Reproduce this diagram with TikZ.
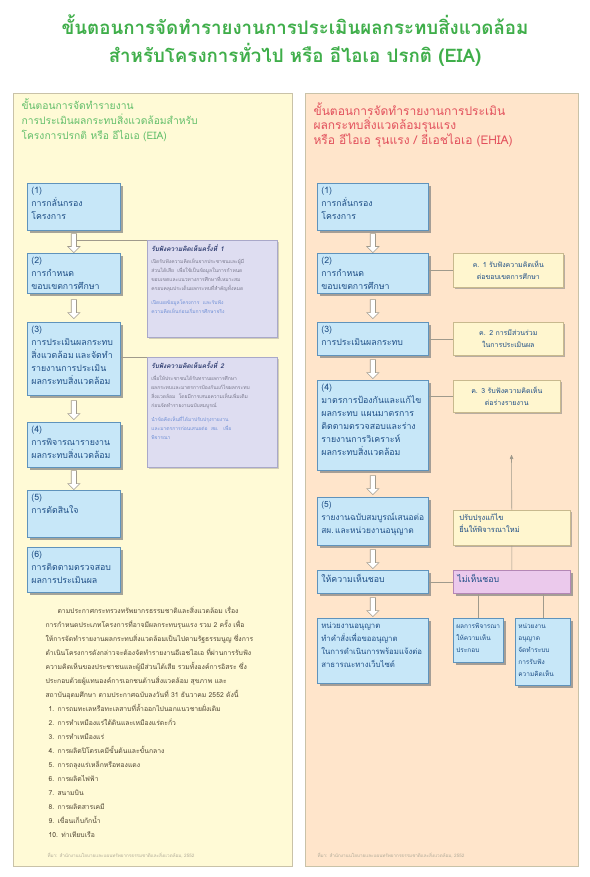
\documentclass[tikz,border=0pt]{standalone}
\usepackage{fontspec}
\setmainfont[Script=Thai]{Loma}
\usetikzlibrary{arrows,shapes.arrows,shadows}

\definecolor{titlegreen}{HTML}{3FAE4A}
\definecolor{headgreen}{HTML}{62BE6A}
\definecolor{headred}{HTML}{E2505C}
\definecolor{eiafill}{HTML}{FFFAD6}
\definecolor{ehiafill}{HTML}{FFE5CB}
\definecolor{panelline}{HTML}{C9C2A8}
\definecolor{boxfill}{HTML}{C7E7F8}
\definecolor{boxline}{HTML}{5F93BC}
\definecolor{boxtext}{HTML}{1E4E86}
\definecolor{notefill}{HTML}{DEDDF1}
\definecolor{noteline}{HTML}{A9A8C9}
\definecolor{notehead}{HTML}{2C3A6E}
\definecolor{notegrey}{HTML}{77768A}
\definecolor{noteblue}{HTML}{6F8FD6}
\definecolor{sidefill}{HTML}{FFF6CF}
\definecolor{sideline}{HTML}{C8B98E}
\definecolor{nofill}{HTML}{EBC9EC}
\definecolor{noline}{HTML}{B487B6}
\definecolor{linkgrey}{HTML}{A09A8C}
\definecolor{bodytext}{HTML}{4E4432}
\definecolor{sourcegrey}{HTML}{B0AA98}

\tikzset{
  box/.style={draw=boxline, fill=boxfill, text=boxtext, anchor=north west, align=left,
    inner xsep=4pt, inner ysep=3pt, text height=7pt, line width=0.7pt,
    font=\fontsize{8.8}{13}\selectfont,
    drop shadow={shadow xshift=2.5pt, shadow yshift=-2.5pt, opacity=0.7}},
  note/.style={draw=noteline, fill=notefill, anchor=north west, align=left, text width=122pt,
    inner xsep=4pt, inner ysep=4pt, text height=7pt, line width=0.6pt,
    drop shadow={shadow xshift=1.5pt, shadow yshift=-1.5pt, opacity=0.35}},
  side/.style={draw=sideline, fill=sidefill, text=boxtext, anchor=north west, align=center,
    inner sep=3pt, line width=0.6pt, font=\fontsize{7}{12}\selectfont,
    drop shadow={shadow xshift=2pt, shadow yshift=-2pt, opacity=0.55}},
  hollow/.style={single arrow, draw=linkgrey, fill=white, rotate=-90, minimum height=19pt,
    inner sep=2.3pt, single arrow head extend=3.5pt, line width=0.6pt},
  link/.style={draw=linkgrey, line width=0.6pt},
}

\begin{document}
\begin{tikzpicture}[x=1pt,y=-1pt]
\useasboundingbox[fill=white] (0,0) rectangle (589,877);

\node[text=titlegreen, align=center, font=\fontsize{18.7}{28}\selectfont\bfseries] (title) at (295,41)
  {ขั้นตอนการจัดทำรายงานการประเมินผลกระทบสิ่งแวดล้อม\\สำหรับโครงการทั่วไป หรือ อีไอเอ ปรกติ (EIA)};

\begin{scope}
  \draw[draw=panelline, fill=eiafill, line width=0.8pt] (13,93) rectangle (292,866);
  \node[anchor=north west, align=left, text=headgreen, font=\fontsize{10.3}{15}\selectfont] (eiahead) at (18,95)
    {ขั้นตอนการจัดทำรายงาน\\การประเมินผลกระทบสิ่งแวดล้อมสำหรับ\\โครงการปรกติ หรือ อีไอเอ (EIA)};

  \node[box, text width=85pt, text depth=34pt] (e1) at (27,183) {(1)\\การกลั่นกรอง\\โครงการ};
  \node[box, text width=85pt, text depth=27pt] (e2) at (27,253) {(2)\\การกำหนด\\ขอบเขตการศึกษา};
  \node[box, text width=85pt, text depth=60pt] (e3) at (27,322) {(3)\\การประเมินผลกระทบ\\สิ่งแวดล้อม\,และจัดทำ\\รายงานการประเมิน\\ผลกระทบสิ่งแวดล้อม};
  \node[box, text width=85pt, text depth=32pt] (e4) at (27,422) {(4)\\การพิจารณารายงาน\\ผลกระทบสิ่งแวดล้อม};
  \node[box, text width=85pt, text depth=34pt] (e5) at (27,490) {(5)\\การตัดสินใจ};
  \node[box, text width=85pt, text depth=32pt] (e6) at (27,547) {(6)\\การติดตามตรวจสอบ\\ผลการประเมินผล};

  \node[note, text depth=82pt] (n1) at (147,240)
    {{\fontsize{6.5}{10}\selectfont\bfseries\itshape\color{notehead} รับฟังความคิดเห็นครั้งที่ 1\par}
     \vspace{3pt}
     {\fontsize{5}{9}\selectfont\color{notegrey} เปิดรับฟังความคิดเห็นจากประชาชนและผู้มี\\ส่วนได้เสีย เพื่อใช้เป็นข้อมูลในการกำหนด\\ขอบเขตและแนวทางการศึกษาที่เหมาะสม\\ครอบคลุมประเด็นผลกระทบที่สำคัญทั้งหมด\par}
     \vspace{5pt}
     {\fontsize{5}{9}\selectfont\color{noteblue} เปิดเผยข้อมูลโครงการ และรับฟัง\\ความคิดเห็นก่อนเริ่มการศึกษาจริง\par}};
  \node[note, text depth=95pt] (n2) at (147,357)
    {{\fontsize{6.5}{10}\selectfont\bfseries\itshape\color{notehead} รับฟังความคิดเห็นครั้งที่ 2\par}
     \vspace{3pt}
     {\fontsize{5}{9}\selectfont\color{notegrey} เพื่อให้ประชาชนได้รับทราบผลการศึกษา\\ผลกระทบและมาตรการป้องกันแก้ไขผลกระทบ\\สิ่งแวดล้อม โดยมีการเสนอความเห็นเพิ่มเติม\\ก่อนจัดทำรายงานฉบับสมบูรณ์\par}
     \vspace{5pt}
     {\fontsize{5}{9}\selectfont\color{noteblue} นำข้อคิดเห็นที่ได้มาปรับปรุงรายงาน\\และมาตรการก่อนเสนอต่อ สผ. เพื่อ\\พิจารณา\par}};

  \draw[link] (n1.north west) -- (n1.north west -| e1.south);
  \draw[link] (n2.north west) -- (n2.north west -| e3.east);

  \path (e1) -- node[hollow] (e12) {} (e2);
  \path (e2) -- node[hollow] (e23) {} (e3);
  \path (e3) -- node[hollow] (e34) {} (e4);
  \path (e4) -- node[hollow] (e45) {} (e5);

  \node[anchor=north west, align=left, text=bodytext, text width=240pt, font=\fontsize{6.8}{14}\selectfont] (eiabody) at (42,603)
    {\hspace*{12pt}ตามประกาศกระทรวงทรัพยากรธรรมชาติและสิ่งแวดล้อม เรื่อง\\
     การกำหนดประเภทโครงการที่อาจมีผลกระทบรุนแรง รวม 2 ครั้ง เพื่อ\\
     ให้การจัดทำรายงานผลกระทบสิ่งแวดล้อมเป็นไปตามรัฐธรรมนูญ ซึ่งการ\\
     ดำเนินโครงการดังกล่าวจะต้องจัดทำรายงานอีเอชไอเอ ที่ผ่านการรับฟัง\\
     ความคิดเห็นของประชาชนและผู้มีส่วนได้เสีย รวมทั้งองค์การอิสระ ซึ่ง\\
     ประกอบด้วยผู้แทนองค์การเอกชนด้านสิ่งแวดล้อม สุขภาพ และ\\
     สถาบันอุดมศึกษา ตามประกาศฉบับลงวันที่ 31 ธันวาคม 2552 ดังนี้\\
     \hspace*{3pt}1. การถมทะเลหรือทะเลสาบที่ล้ำออกไปนอกแนวชายฝั่งเดิม\\
     \hspace*{3pt}2. การทำเหมืองแร่ใต้ดินและเหมืองแร่ตะกั่ว\\
     \hspace*{3pt}3. การทำเหมืองแร่\\
     \hspace*{3pt}4. การผลิตปิโตรเคมีขั้นต้นและขั้นกลาง\\
     \hspace*{3pt}5. การถลุงแร่เหล็กหรือทองแดง\\
     \hspace*{3pt}6. การผลิตไฟฟ้า\\
     \hspace*{3pt}7. สนามบิน\\
     \hspace*{3pt}8. การผลิตสารเคมี\\
     \hspace*{3pt}9. เขื่อนเก็บกักน้ำ\\
     \hspace*{3pt}10. ท่าเทียบเรือ};

  \node[anchor=west, text=sourcegrey, font=\fontsize{4.6}{6}\selectfont] (eiasource) at (44,855)
    {ที่มา: สำนักงานนโยบายและแผนทรัพยากรธรรมชาติและสิ่งแวดล้อม, 2552};
\end{scope}

\begin{scope}
  \draw[draw=panelline, fill=ehiafill, line width=0.8pt] (305,93) rectangle (578,866);
  \node[anchor=north west, align=left, text=headred, font=\fontsize{12}{14.5}\selectfont] (ehiahead) at (310,99)
    {ขั้นตอนการจัดทำรายงานการประเมิน\\ผลกระทบสิ่งแวดล้อมรุนแรง\\หรือ อีไอเอ รุนแรง / อีเอชไอเอ (EHIA)};

  \node[box, text width=103pt, text depth=34pt] (h1) at (317,183) {(1)\\การกลั่นกรอง\\โครงการ};
  \node[box, text width=103pt, text depth=27pt] (h2) at (317,253) {(2)\\การกำหนด\\ขอบเขตการศึกษา};
  \node[box, text width=103pt, text depth=20pt] (h3) at (317,322) {(3)\\การประเมินผลกระทบ};
  \node[box, text width=103pt, text depth=77pt] (h4) at (317,380) {(4)\\มาตรการป้องกันและแก้ไข\\ผลกระทบ แผนมาตรการ\\ติดตามตรวจสอบและร่าง\\รายงานการวิเคราะห์\\ผลกระทบสิ่งแวดล้อม};
  \node[box, text width=103pt, text depth=35pt, font=\fontsize{8.4}{13}\selectfont] (h5) at (317,497) {(5)\\รายงานฉบับสมบูรณ์เสนอต่อ\\สผ.\,และหน่วยงานอนุญาต};
  \node[box, text width=103pt, text height=9pt, text depth=8pt] (h6) at (317,570) {ให้ความเห็นชอบ};
  \node[box, text width=103pt, text depth=52pt, font=\fontsize{7.8}{13}\selectfont] (h7) at (317,618) {หน่วยงานอนุญาต\\ทำคำสั่งเพื่อขออนุญาต\\ในการดำเนินการพร้อมแจ้งต่อ\\สาธารณะทางเว็บไซต์};

  \node[side, text width=104pt, minimum height=34pt] (c1) at (453,253) {ค. 1 รับฟังความคิดเห็น\\ต่อขอบเขตการศึกษา};
  \node[side, text width=104pt, minimum height=33pt] (c2) at (453,322) {ค. 2 การมีส่วนร่วม\\ในการประเมินผล};
  \node[side, text width=101pt, minimum height=32pt] (c3) at (453,380) {ค. 3 รับฟังความคิดเห็น\\ต่อร่างรายงาน};
  \node[side, align=left, inner xsep=6pt, text width=105pt, text height=7pt, text depth=22pt, font=\fontsize{7.5}{12}\selectfont] (fix) at (453,510) {ปรับปรุงแก้ไข\\ยื่นให้พิจารณาใหม่};
  \node[box, draw=noline, fill=nofill, text width=109pt, text height=9pt, text depth=8pt] (no) at (453,570) {ไม่เห็นชอบ};
  \node[box, inner xsep=3pt, text width=44pt, text depth=31pt, font=\fontsize{6.5}{12}\selectfont] (ha) at (453,618) {ผลการพิจารณา\\ให้ความเห็น\\ประกอบ};
  \node[box, inner xsep=3pt, text width=49pt, text depth=54pt, font=\fontsize{6.5}{12}\selectfont] (hb) at (515,618) {หน่วยงาน\\อนุญาต\\จัดทำระบบ\\การรับฟัง\\ความคิดเห็น};

  \draw[link] (c1.west) -- (c1.west -| h2.east);
  \draw[link] (c2.west) -- (c2.west -| h3.east);
  \draw[link] (c3.west) -- (c3.west -| h4.east);
  \draw[link] (h6.east) -- (no.west);
  \draw[link] (fix.south) -- (no.north);
  \coordinate (back) at (511.5,455);
  \draw[link, -stealth'] (fix.north) -- (back);
  \draw[link] (ha.north) -- (ha.north |- no.south);
  \draw[link] (hb.north) -- (hb.north |- no.south);

  \path (h1) -- node[hollow] (h12) {} (h2);
  \path (h2) -- node[hollow] (h23) {} (h3);
  \path (h3) -- node[hollow] (h34) {} (h4);
  \path (h4) -- node[hollow] (h45) {} (h5);
  \path (h5) -- node[hollow] (h56) {} (h6);
  \path (h6) -- node[hollow] (h67) {} (h7);

  \node[anchor=west, text=sourcegrey, font=\fontsize{4.6}{6}\selectfont] (ehiasource) at (314,855)
    {ที่มา: สำนักงานนโยบายและแผนทรัพยากรธรรมชาติและสิ่งแวดล้อม, 2552};
\end{scope}

\end{tikzpicture}
\end{document}
